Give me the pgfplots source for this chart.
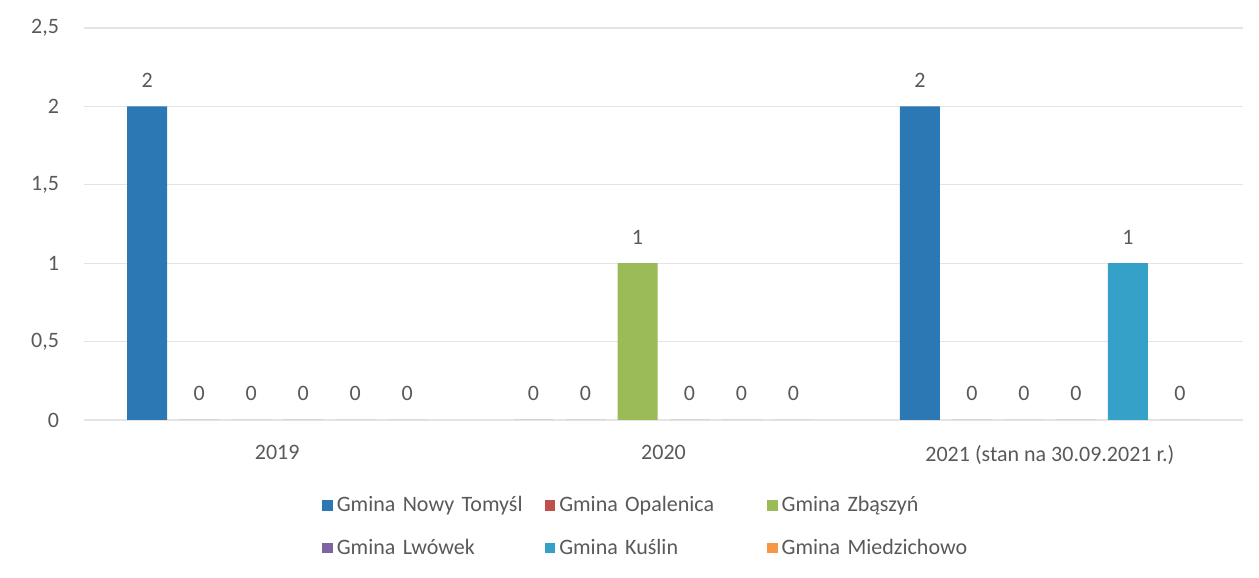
\documentclass[border=0pt]{standalone}
\usepackage{fontspec}
\setmainfont{Carlito}
\usepackage{pgfplots}
\pgfplotsset{compat=1.18}
\definecolor{cNowy}{HTML}{2C78B4}
\definecolor{cOpal}{HTML}{C0504D}
\definecolor{cZbas}{HTML}{9BBB59}
\definecolor{cLwow}{HTML}{8064A2}
\definecolor{cKusl}{HTML}{35A0C8}
\definecolor{cMied}{HTML}{F79646}
\definecolor{txt}{HTML}{595959}
\definecolor{grd}{HTML}{E4E4E4}
\begin{document}
\begin{tikzpicture}
\path[use as bounding box] (0,0) rectangle (629.5pt,289pt);
\begin{axis}[
  at={(42pt,79pt)}, anchor=south west,
  width=579.5pt, height=196pt, scale only axis,
  ybar=6pt, bar width=20pt,
  xmin=-0.5, xmax=2.5, ymin=0, ymax=2.5,
  xtick={0,1,2},
  xticklabels={2019,2020,{2021 (stan na 30.09.2021 r.)}},
  ytick={0,0.5,1,1.5,2,2.5},
  /pgf/number format/assume math mode=true,
  /pgf/number format/use comma,
  ymajorgrids, grid style={grd, line width=0.6pt},
  axis line style={draw=none}, tick style={draw=none},
  major tick length=0pt,
  ticklabel style={font=\fontsize{11}{13}\selectfont, text=txt},
  yticklabel style={xshift=-9pt},
  xticklabel style={yshift=-9pt},
  nodes near coords,
  every node near coord/.append style={font=\fontsize{11}{13}\selectfont, text=txt, yshift=6pt},
  legend columns=3,
  legend image code/.code={\draw[#1,draw=none] (0pt,-2.6pt) rectangle (5.2pt,2.6pt);},
  legend style={draw=none, fill=none, inner sep=0pt, row sep=8pt,
    at={(0.2054,-0.184)}, anchor=north west,
    font=\fontsize{11}{13}\selectfont, text=txt,
    /tikz/every even column/.append style={text width=102pt, align=left}},
  legend cell align=left,
]
\addplot[fill=cNowy, draw=none] coordinates {(0,2) (1,0) (2,2)};
\addplot[fill=cOpal, draw=none] coordinates {(0,0) (1,0) (2,0)};
\addplot[fill=cZbas, draw=none] coordinates {(0,0) (1,1) (2,0)};
\addplot[fill=cLwow, draw=none] coordinates {(0,0) (1,0) (2,0)};
\addplot[fill=cKusl, draw=none] coordinates {(0,0) (1,0) (2,1)};
\addplot[fill=cMied, draw=none] coordinates {(0,0) (1,0) (2,0)};
\legend{Gmina Nowy Tomyśl, Gmina Opalenica, Gmina Zbąszyń, Gmina Lwówek, Gmina Kuślin, Gmina Miedzichowo}
\end{axis}
\end{tikzpicture}
\end{document}
